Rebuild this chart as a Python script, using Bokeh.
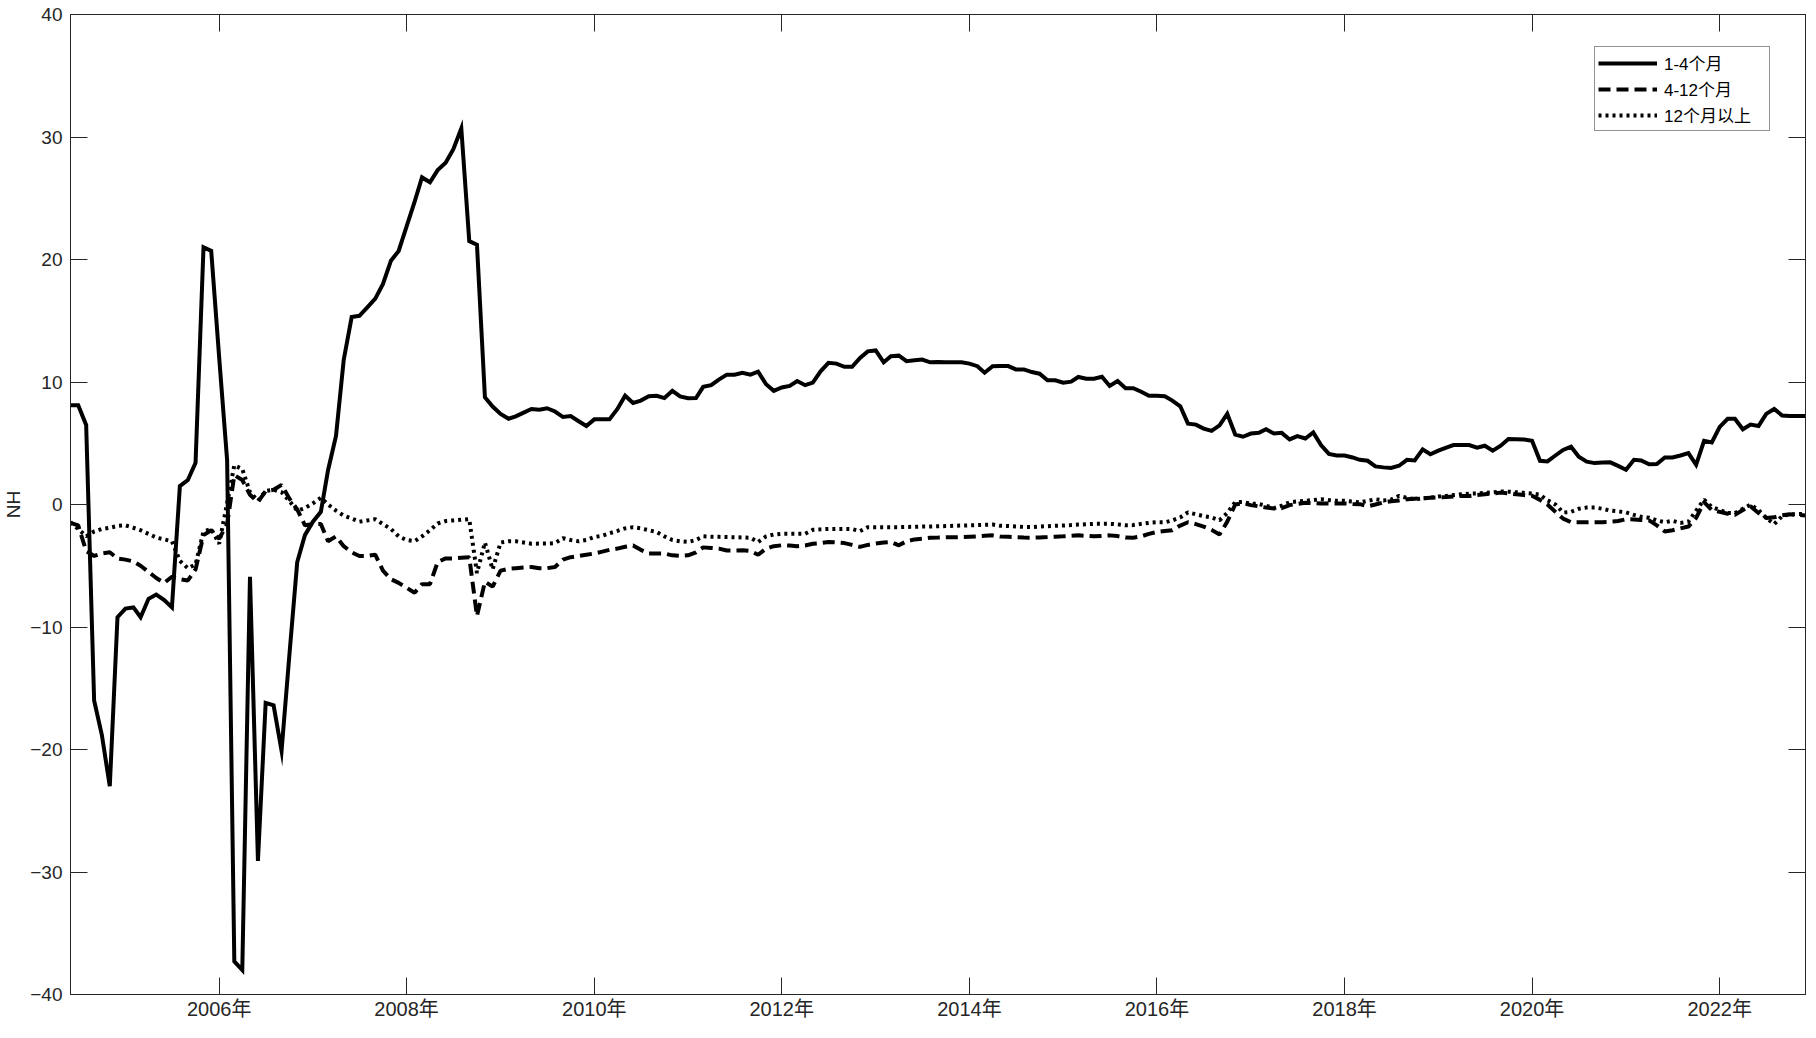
import pandas as pd
from bokeh.plotting import figure
from bokeh.models import (Range1d, LinearAxis, DatetimeAxis, FixedTicker,
                          DatetimeTickFormatter, Legend, LegendItem,
                          CustomLabelingPolicy)
from bokeh.embed import file_html
from bokeh.resources import INLINE

start_month = "2004-06-01"

s1 = [8.1, 8.1, 6.5, -16.0, -18.8, -23.0, -9.2, -8.5, -8.4, -9.2,
      -7.7, -7.35, -7.8, -8.4, 1.5, 2.0, 3.4, 21.0, 20.7, 12.0,
      3.6, -37.3, -38.0, -5.9, -29.1, -16.2, -16.4, -20.1, -12.4, -4.7,
      -2.5, -1.4, -0.6, 2.8, 5.6, 11.8, 15.3, 15.4, 16.1, 16.8,
      18.0, 19.9, 20.7, 22.7, 24.7, 26.7, 26.3, 27.3, 27.9, 29.0,
      30.7, 21.5, 21.2, 8.75, 8.0, 7.4, 7.0, 7.2, 7.5, 7.8,
      7.73, 7.86, 7.59, 7.14, 7.22, 6.8, 6.41, 6.95, 6.95, 6.95,
      7.8, 8.88, 8.29, 8.48, 8.83, 8.88, 8.69, 9.28, 8.83, 8.67,
      8.69, 9.6, 9.74, 10.2, 10.6, 10.6, 10.76, 10.6, 10.84, 9.82,
      9.28, 9.55, 9.68, 10.08, 9.74, 9.95, 10.89, 11.57, 11.5, 11.24,
      11.24, 11.97, 12.5, 12.58, 11.61, 12.1, 12.15, 11.7, 11.77, 11.83,
      11.61, 11.64, 11.61, 11.61, 11.61, 11.5, 11.29, 10.76, 11.29, 11.3,
      11.3, 11.03, 11.03, 10.81, 10.68, 10.14, 10.14, 9.95, 10.03, 10.41,
      10.27, 10.27, 10.43, 9.68, 10.08, 9.5, 9.5, 9.2, 8.88, 8.88,
      8.83, 8.48, 8.02, 6.6, 6.52, 6.2, 6.01, 6.46, 7.4, 5.71,
      5.53, 5.79, 5.85, 6.14, 5.79, 5.85, 5.31, 5.58, 5.39, 5.88,
      4.85, 4.13, 4.0, 4.0, 3.84, 3.65, 3.57, 3.11, 3.03, 2.98,
      3.16, 3.65, 3.6, 4.5, 4.1, 4.4, 4.65, 4.85, 4.85, 4.85,
      4.64, 4.8, 4.4, 4.8, 5.34, 5.32, 5.31, 5.2, 3.57, 3.52,
      4.0, 4.45, 4.72, 3.9, 3.5, 3.38, 3.42, 3.44, 3.15, 2.84,
      3.65, 3.6, 3.28, 3.3, 3.84, 3.84, 4.0, 4.19, 3.24, 5.2,
      5.07, 6.33, 7.0, 7.0, 6.14, 6.52, 6.41, 7.4, 7.8, 7.27,
      7.22, 7.22, 7.22]

s2 = [-1.5, -1.7, -3.8, -4.2, -4.0, -3.9, -4.4, -4.5, -4.65, -5.0,
      -5.5, -6.0, -6.4, -5.9, -6.1, -6.2, -5.3, -2.5, -2.1, -2.8,
      -1.6, 2.4, 2.0, 0.8, 0.2, 1.1, 1.2, 1.6, 0.5, -0.4,
      -1.7, -1.6, -1.6, -3.0, -2.6, -3.4, -3.9, -4.2, -4.2, -4.1,
      -5.4, -6.1, -6.4, -6.8, -7.2, -6.5, -6.5, -4.7, -4.4, -4.4,
      -4.35, -4.3, -9.1, -6.3, -6.7, -5.4, -5.25, -5.2, -5.15, -5.1,
      -5.2, -5.2, -5.1, -4.5, -4.3, -4.2, -4.1, -4.0, -3.85, -3.7,
      -3.6, -3.45, -3.35, -3.7, -4.0, -4.0, -4.0, -4.15, -4.2, -4.15,
      -3.9, -3.5, -3.55, -3.6, -3.75, -3.75, -3.73, -3.8, -4.1, -3.6,
      -3.4, -3.33, -3.35, -3.4, -3.35, -3.2, -3.15, -3.06, -3.1, -3.15,
      -3.3, -3.46, -3.3, -3.19, -3.1, -3.06, -3.33, -3.0, -2.85, -2.8,
      -2.72, -2.7, -2.68, -2.67, -2.66, -2.63, -2.6, -2.55, -2.52, -2.62,
      -2.64, -2.67, -2.7, -2.71, -2.69, -2.66, -2.63, -2.6, -2.56, -2.52,
      -2.56, -2.6, -2.56, -2.52, -2.58, -2.7, -2.71, -2.6, -2.4, -2.25,
      -2.17, -2.1, -1.72, -1.45, -1.6, -1.8, -2.07, -2.45, -1.4, 0.0,
      0.1, -0.05, -0.15, -0.25, -0.32, -0.3, -0.05, 0.05, 0.14, 0.12,
      0.09, 0.08, 0.08, 0.08, 0.05, 0.03, -0.15, 0.0, 0.16, 0.27,
      0.33, 0.43, 0.47, 0.51, 0.55, 0.58, 0.62, 0.66, 0.7, 0.7,
      0.78, 0.84, 0.9, 0.97, 0.9, 0.83, 0.77, 0.71, 0.38, 0.0,
      -0.6, -1.15, -1.45, -1.45, -1.45, -1.45, -1.44, -1.4, -1.35, -1.2,
      -1.22, -1.27, -1.3, -1.7, -2.2, -2.1, -1.95, -1.8, -1.1, 0.2,
      -0.45, -0.6, -0.75, -0.85, -0.45, -0.15, -0.7, -1.1, -1.05, -0.88,
      -0.8, -0.85, -0.9]

s3 = [-1.45, -2.0, -2.6, -2.2, -2.0, -1.9, -1.75, -1.7, -1.9, -2.1,
      -2.4, -2.7, -2.85, -3.0, -4.6, -5.2, -4.9, -2.2, -2.0, -3.2,
      0.1, 3.2, 2.9, 1.0, 0.3, 1.1, 1.2, 1.0, 0.3, -0.5,
      -0.3, 0.1, 0.55, 0.0, -0.5, -0.9, -1.15, -1.4, -1.3, -1.2,
      -1.6, -2.0, -2.6, -2.9, -3.0, -2.6, -2.1, -1.55, -1.35, -1.3,
      -1.25, -1.2, -5.6, -3.1, -5.3, -3.1, -3.0, -3.0, -3.1, -3.2,
      -3.19, -3.19, -3.15, -2.75, -2.9, -3.0, -2.9, -2.65, -2.55, -2.35,
      -2.15, -1.95, -1.85, -1.95, -2.1, -2.25, -2.6, -2.9, -3.0, -3.06,
      -2.9, -2.6, -2.63, -2.64, -2.66, -2.67, -2.69, -2.71, -3.06, -2.6,
      -2.45, -2.39, -2.39, -2.39, -2.39, -2.07, -2.03, -1.99, -1.99, -1.99,
      -2.0, -2.17, -1.85, -1.85, -1.85, -1.85, -1.85, -1.83, -1.82, -1.8,
      -1.8, -1.78, -1.76, -1.74, -1.72, -1.7, -1.68, -1.66, -1.64, -1.74,
      -1.76, -1.8, -1.83, -1.84, -1.8, -1.77, -1.74, -1.72, -1.68, -1.64,
      -1.61, -1.58, -1.58, -1.58, -1.62, -1.7, -1.68, -1.58, -1.5, -1.45,
      -1.45, -1.3, -1.05, -0.64, -0.8, -0.95, -1.05, -1.28, -0.7, 0.2,
      0.2, 0.07, 0.04, -0.1, -0.3, -0.1, 0.18, 0.25, 0.3, 0.37,
      0.43, 0.35, 0.3, 0.3, 0.25, 0.17, 0.3, 0.43, 0.33, 0.4,
      0.7, 0.55, 0.43, 0.5, 0.56, 0.65, 0.7, 0.77, 0.83, 0.88,
      0.9, 0.95, 1.0, 1.06, 1.05, 1.0, 0.95, 0.9, 0.8, 0.35,
      0.0, -0.65, -0.6, -0.35, -0.25, -0.24, -0.35, -0.5, -0.56, -0.64,
      -0.85, -1.0, -1.08, -1.3, -1.45, -1.33, -1.5, -1.4, -0.5, 0.4,
      -0.2, -0.45, -0.7, -0.7, -0.35, 0.0, -0.45, -1.1, -1.6, -0.95,
      -0.8, -0.78, -0.78]

series_names = ["1-4个月", "4-12个月", "12个月以上"]
y_ticks = [-40, -30, -20, -10, 0, 10, 20, 30, 40]
x_tick_years = [2006, 2008, 2010, 2012, 2014, 2016, 2018, 2020, 2022]
y_label = "NH"

dates = pd.date_range(start_month, periods=len(s1), freq="MS")
tick_ms = [pd.Timestamp(f"{y}-01-01").value / 1e6 for y in x_tick_years]

FONT = "'Liberation Sans', Arial, 'Noto Sans CJK SC'"
INK = "#262626"

FW, FH = 1735, 980

p = figure(frame_width=FW, frame_height=FH, x_axis_type="datetime",
           output_backend="svg", toolbar_location=None,
           x_range=Range1d(dates[0], dates[-1]),
           y_range=Range1d(-40, 40),
           min_border_left=64, min_border_right=1,
           min_border_top=8, min_border_bottom=0)
p.xgrid.visible = False
p.ygrid.visible = False
p.outline_line_color = INK
p.outline_line_width = 1
p.background_fill_color = "white"
p.border_fill_color = "white"

no_labels = CustomLabelingPolicy(code="""
const n = indices.size;
for (let i = 0; i < n; i++) { indices.unset(i); }
return indices;
""")

def style_axis(ax, labels=True, size="19px"):
    ax.axis_line_color = INK
    ax.axis_line_width = 1
    ax.major_tick_line_color = INK
    ax.major_tick_line_width = 1
    ax.major_tick_in = 17
    ax.major_tick_out = 0
    ax.minor_tick_line_color = None
    ax.major_label_text_font = FONT
    ax.major_label_text_color = INK
    ax.major_label_text_font_size = size
    if not labels:
        ax.major_label_policy = no_labels
        ax.major_label_standoff = 0

xfmt = DatetimeTickFormatter(years="%Y年", months="%Y年", days="%Y年",
                             hours="%Y年", minutes="%Y年", seconds="%Y年",
                             milliseconds="%Y年", microseconds="%Y年")

xa = p.xaxis[0]
xa.ticker = FixedTicker(ticks=tick_ms)
xa.formatter = xfmt
style_axis(xa, size="20px")
xa.major_label_standoff = 3

ya = p.yaxis[0]
ya.ticker = FixedTicker(ticks=y_ticks)
style_axis(ya)
ya.major_label_standoff = 8
ya.axis_label = y_label
ya.axis_label_text_font = FONT
ya.axis_label_text_font_style = "normal"
ya.axis_label_text_font_size = "19px"
ya.axis_label_text_color = INK
ya.axis_label_standoff = 3

ra = LinearAxis(ticker=FixedTicker(ticks=y_ticks))
style_axis(ra, labels=False, size="1px")
p.add_layout(ra, "right")
ta = DatetimeAxis(ticker=FixedTicker(ticks=tick_ms), formatter=xfmt)
style_axis(ta, labels=False, size="10px")
p.add_layout(ta, "above")

LW = 4
r1 = p.line(dates, s1, line_color="black", line_width=LW, line_join="miter")
r2 = p.line(dates, s2, line_color="black", line_width=LW, line_dash="12 6")
r3 = p.line(dates, s3, line_color="black", line_width=LW, line_dash="3 4")

LEG_H = 82
legend = Legend(items=[LegendItem(label=series_names[0], renderers=[r1]),
                       LegendItem(label=series_names[1], renderers=[r2]),
                       LegendItem(label=series_names[2], renderers=[r3])],
                location=(1524, FH - 35 - LEG_H),
                label_text_font=FONT, label_text_font_size="17px",
                label_text_color="black",
                glyph_width=59, glyph_height=20, label_height=20,
                label_width=102, label_standoff=7,
                spacing=1, padding=3, margin=0,
                border_line_color=INK, border_line_width=1,
                background_fill_color="white", background_fill_alpha=1)
p.add_layout(legend, "center")

open("out.html", "w").write(file_html(p, INLINE))
